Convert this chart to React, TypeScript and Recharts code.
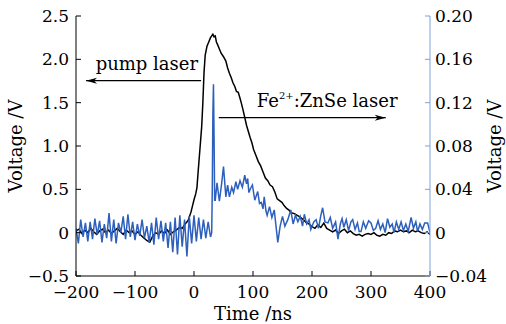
import { LineChart, Line, XAxis, YAxis, ReferenceLine } from "recharts";

// pump laser trace (left axis, V)
const pumpTime = [
  -200, -195, -190, -185, -180, -175, -170, -165, -160, -155, -150, -145, -140, -135, -130, -125,
  -120, -115, -110, -105, -100, -95, -90, -85, -80, -75, -70, -65, -60, -55, -50, -45, -40, -35,
  -30, -25, -20, -15, -10, -5, 0, 3, 5, 7, 10, 13, 15, 17, 19, 22, 25, 28, 30, 32, 34, 36, 38, 40,
  43, 46, 50, 54, 57, 60, 63, 66, 69, 72, 75, 78, 80, 83, 86, 89, 92, 95, 98, 101, 105, 109, 113,
  117, 121, 125, 129, 133, 137, 141, 145, 149, 153, 157, 161, 165, 170, 175, 180, 185, 190, 195,
  200, 205, 210, 215, 220, 225, 230, 235, 240, 245, 250, 255, 260, 265, 270, 275, 280, 285, 290,
  295, 300, 305, 310, 315, 320, 325, 330, 335, 340, 345, 350, 355, 360, 365, 370, 375, 380, 385,
  390, 395, 400,
];
const pumpVoltage = [
  0.02, 0.04, -0.01, 0.03, 0.0, 0.05, 0.01, -0.02, 0.02, 0.04, 0.0, 0.03, -0.01, 0.02, 0.05, 0.01,
  -0.02, 0.03, 0.0, 0.02, -0.02, 0.01, -0.03, -0.06, -0.09, -0.11, -0.04, 0.0, -0.02, 0.02, -0.01,
  0.03, -0.02, 0.01, 0.03, 0.06, 0.05, 0.1, 0.14, 0.24, 0.38, 0.45, 0.52, 0.7, 0.96, 1.22, 1.5,
  1.85, 2.05, 2.15, 2.2, 2.25, 2.27, 2.29, 2.26, 2.27, 2.2, 2.17, 2.12, 2.07, 2.03, 1.98, 1.9,
  1.84, 1.79, 1.73, 1.69, 1.63, 1.62, 1.55, 1.5, 1.42, 1.33, 1.24, 1.17, 1.1, 1.04, 0.96, 0.89,
  0.82, 0.77, 0.7, 0.63, 0.6, 0.55, 0.53, 0.47, 0.39, 0.37, 0.35, 0.31, 0.28, 0.26, 0.23, 0.22,
  0.2, 0.18, 0.15, 0.12, 0.1, 0.07, 0.05, 0.09, 0.06, 0.11, 0.05, 0.03, 0.01, 0.03, -0.01, 0.02,
  0.04, 0.0, 0.02, -0.01, -0.03, -0.02, -0.04, -0.02, -0.01, -0.02, 0.0, -0.03, -0.04, -0.02,
  -0.03, 0.0, -0.01, 0.02, 0.01, 0.03, 0.01, 0.02, 0.0, 0.03, 0.01, 0.02, 0.0, -0.01, 0.01, -0.02,
];

// Fe2+:ZnSe laser trace (right axis, V)
const laserTime = [
  -200, -196, -192, -188, -184, -180, -176, -172, -168, -164, -160, -156, -152, -148, -144, -140,
  -136, -132, -128, -124, -120, -116, -112, -108, -104, -100, -96, -92, -88, -84, -80, -76, -72,
  -68, -64, -60, -56, -52, -48, -44, -40, -36, -32, -28, -24, -20, -16, -12, -8, -4, 0, 4, 8, 12,
  16, 20, 24, 28, 30, 31, 32, 33, 34, 35, 36, 39, 43, 47, 50, 54, 57, 60, 64, 67, 71, 74, 78, 82,
  86, 89, 91, 93, 96, 99, 103, 108, 111, 114, 117, 119, 122, 124, 128, 132, 136, 139, 142, 146,
  150, 154, 159, 164, 168, 172, 176, 180, 184, 187, 191, 195, 198, 203, 207, 211, 215, 218, 222,
  227, 231, 235, 240, 244, 248, 251, 254, 258, 262, 266, 269, 273, 277, 280, 283, 287, 291, 296,
  300, 304, 308, 312, 316, 320, 324, 328, 332, 336, 339, 343, 347, 351, 355, 359, 363, 368, 372,
  376, 379, 383, 387, 391, 396, 400,
];
const laserVoltage = [
  0.004, -0.01, 0.012, -0.004, 0.009, -0.008, 0.01, -0.006, 0.013, -0.002, 0.011, -0.009, 0.008,
  -0.005, 0.018, -0.008, 0.012, -0.01, 0.009, 0.0, 0.015, -0.006, 0.017, -0.004, 0.01, -0.007,
  0.008, -0.003, 0.012, -0.005, 0.006, -0.009, 0.009, -0.011, 0.014, -0.006, 0.011, -0.008, 0.009,
  -0.014, 0.01, -0.018, 0.014, -0.02, 0.016, -0.013, 0.012, -0.022, 0.015, -0.01, 0.016, -0.008,
  0.014, -0.006, 0.012, -0.005, 0.01, -0.004, 0.0, 0.04, 0.11, 0.137, 0.09, 0.03, 0.03, 0.046,
  0.029, 0.046, 0.061, 0.033, 0.044, 0.033, 0.042, 0.037, 0.047, 0.04, 0.048, 0.042, 0.053, 0.045,
  0.05, 0.037, 0.041, 0.044, 0.03, 0.038, 0.027, 0.028, 0.022, 0.033, 0.02, 0.016, 0.024, 0.014,
  0.021, 0.006, -0.009, 0.006, 0.015, 0.006, 0.012, 0.021, 0.008, 0.016, 0.01, 0.015, 0.006,
  0.017, 0.008, 0.012, 0.003, 0.01, 0.012, 0.004, 0.016, 0.023, 0.01, 0.009, 0.014, 0.004, 0.01,
  -0.006, 0.008, 0.013, 0.005, 0.012, 0.002, 0.01, 0.012, 0.003, 0.009, 0.001, 0.001, 0.01, 0.004,
  0.011, 0.009, 0.002, 0.004, 0.011, 0.003, 0.008, 0.0, 0.013, 0.005, 0.008, 0.0, 0.01, 0.003,
  0.01, 0.002, 0.008, 0.001, 0.014, 0.004, 0.01, 0.001, 0.008, 0.003, 0.009, 0.009, 0.0,
];

const timeTicks = [-200, -100, 0, 100, 200, 300, 400];
const leftTicks = [-0.5, 0, 0.5, 1.0, 1.5, 2.0, 2.5];
const rightTicks = [-0.04, 0, 0.04, 0.08, 0.12, 0.16, 0.2];

const pumpData = pumpTime.map((t, i) => ({ t, v: pumpVoltage[i] }));
const laserData = laserTime.map((t, i) => ({ t, v: laserVoltage[i] }));

const FONT = "DejaVu Serif";
const BLUE = "#2d5fbd";
const AXIS_BLUE = "#7fa1da";

const minus = (s: string) => s.replace("-", "\u2212");
const fmtLeft = (v: number) => (v === 0 ? "0" : minus(v.toFixed(1)));
const fmtRight = (v: number) => (v === 0 ? "0" : minus(v.toFixed(2)));
const fmtTime = (v: number) => minus(String(v));

const tickStyle = { fill: "#000", fontSize: 17, fontFamily: FONT };

// arrow with its caption; dir = -1 points left, 1 points right
function arrowShape(dir: number, caption: React.ReactNode, dx: number, anchor: "start" | "end") {
  return (props: any) => {
    const { x1, y1, x2 } = props;
    const left = Math.min(x1, x2);
    const right = Math.max(x1, x2);
    const tip = dir < 0 ? left : right;
    return (
      <g>
        <line x1={left} y1={y1} x2={right} y2={y1} stroke="#000" strokeWidth={1.2} />
        <path
          d={`M${tip},${y1} L${tip - dir * 11},${y1 - 3} L${tip - dir * 8},${y1} L${tip - dir * 11},${y1 + 3} Z`}
          fill="#000"
        />
        <text
          x={anchor === "end" ? right + dx : left + dx}
          y={y1 - 11}
          textAnchor={anchor}
          fontFamily={FONT}
          fontSize={18}
          fill="#000"
        >
          {caption}
        </text>
      </g>
    );
  };
}

export default function App() {
  return (
    <div style={{ position: "absolute", left: 0, top: 0, background: "#fff" }}>
      <LineChart width={506} height={324} margin={{ top: 16, right: 0, bottom: 0, left: 0 }}>
        <XAxis
          xAxisId="b"
          dataKey="t"
          type="number"
          domain={[-200, 400]}
          ticks={timeTicks}
          tickFormatter={fmtTime}
          allowDataOverflow
          height={48}
          stroke="#000"
          tickSize={-5}
          tickMargin={15}
          tick={tickStyle}
          label={{ value: "Time /ns", position: "insideBottom", offset: 4, fill: "#000", fontSize: 18, fontFamily: FONT }}
        />
        <XAxis xAxisId="top" orientation="top" dataKey="t" type="number" domain={[-200, 400]} height={0} tick={false} tickLine={false} stroke="#000" />
        <YAxis
          yAxisId="l"
          domain={[-0.5, 2.5]}
          ticks={leftTicks}
          tickFormatter={fmtLeft}
          allowDataOverflow
          width={76}
          stroke="#000"
          tickSize={-5}
          tickMargin={12}
          tick={tickStyle}
          label={{ value: "Voltage /V", angle: -90, position: "center", dx: -22, fill: "#000", fontSize: 18, fontFamily: FONT }}
        />
        <YAxis
          yAxisId="r"
          orientation="right"
          domain={[-0.04, 0.2]}
          ticks={rightTicks}
          tickFormatter={fmtRight}
          allowDataOverflow
          width={76}
          stroke={AXIS_BLUE}
          tickSize={-5}
          tickMargin={10}
          tick={tickStyle}
          label={{ value: "Voltage /V", angle: -90, position: "center", dx: 27, fill: "#000", fontSize: 18, fontFamily: FONT }}
        />
        <Line
          xAxisId="b"
          yAxisId="l"
          data={pumpData}
          dataKey="v"
          stroke="#000"
          strokeWidth={1.5}
          dot={false}
          isAnimationActive={false}
        />
        <Line
          xAxisId="b"
          yAxisId="r"
          data={laserData}
          dataKey="v"
          stroke={BLUE}
          strokeWidth={1.5}
          dot={false}
          isAnimationActive={false}
        />
        <ReferenceLine
          xAxisId="b"
          yAxisId="l"
          segment={[{ x: -183, y: 1.754 }, { x: 12, y: 1.754 }]}
          shape={arrowShape(-1, "pump laser", -3, "end")}
        />
        <ReferenceLine
          xAxisId="b"
          yAxisId="l"
          segment={[{ x: 42, y: 1.327 }, { x: 325, y: 1.327 }]}
          shape={arrowShape(
            1,
            <>
              Fe
              <tspan fontSize={10} dy={-8}>2+</tspan>
              <tspan dy={8}>:ZnSe laser</tspan>
            </>,
            38,
            "start"
          )}
        />
      </LineChart>
    </div>
  );
}
